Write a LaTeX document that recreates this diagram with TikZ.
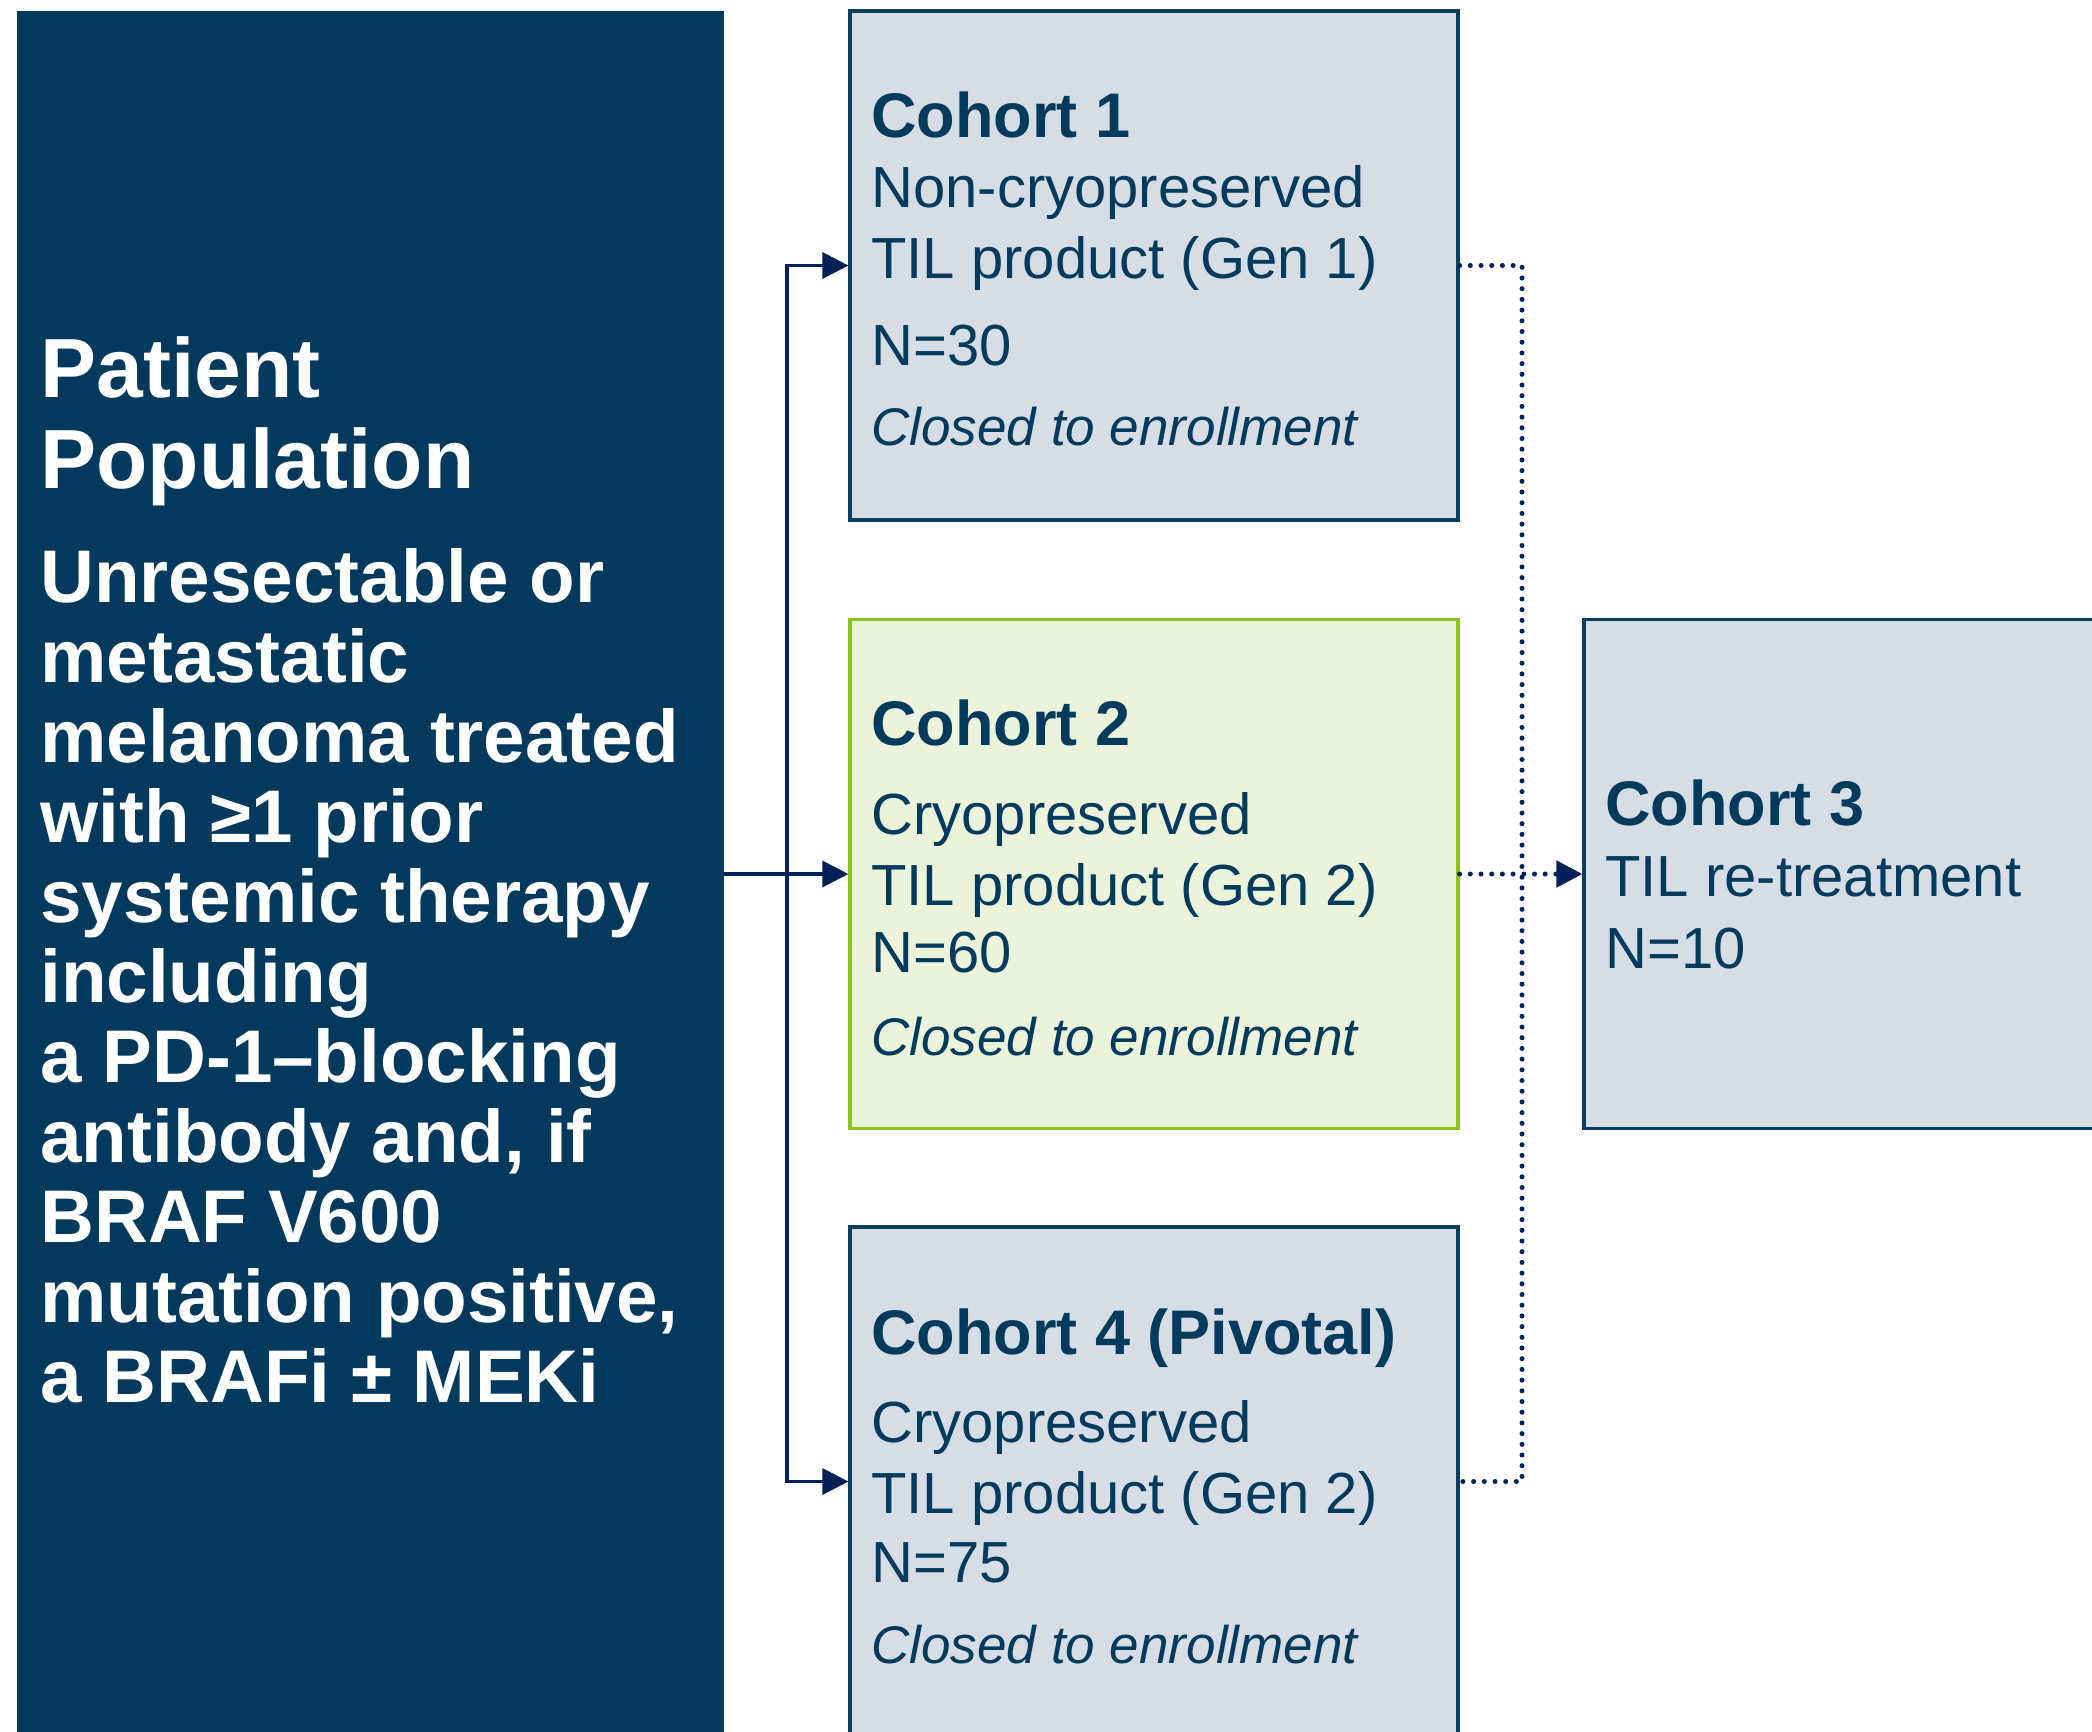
\documentclass[tikz,border=0pt]{standalone}
\usepackage{fontspec}
\setmainfont{Liberation Sans}
\usetikzlibrary{arrows.meta}
\definecolor{navyfill}{HTML}{03395C}
\definecolor{textblue}{HTML}{003A5D}
\definecolor{grayfill}{HTML}{D6DDE4}
\definecolor{greenfill}{HTML}{ECF3DB}
\definecolor{greenline}{HTML}{8DC21F}
\definecolor{boxline}{HTML}{0B3D5F}
\definecolor{arrowblue}{HTML}{002157}
\begin{document}
\begin{tikzpicture}[x=0.5pt,y=-0.5pt,
  cohortbox/.style={draw=boxline, fill=grayfill, line width=1.6pt, minimum width=304pt, minimum height=254.5pt, inner sep=0pt},
  greenbox/.style={cohortbox, draw=greenline, fill=greenfill},
  popbox/.style={fill=navyfill, minimum width=353.5pt, minimum height=863pt, inner sep=0pt},
  ttl/.style={anchor=base west, inner sep=0pt, text=textblue, font=\fontsize{31.5pt}{36pt}\selectfont\bfseries},
  bodytxt/.style={anchor=base west, inner sep=0pt, text=textblue, font=\fontsize{29pt}{34pt}\selectfont},
  itxt/.style={anchor=base west, inner sep=0pt, text=textblue, font=\fontsize{26.5pt}{31pt}\selectfont\itshape},
  poptitle/.style={anchor=base west, inner sep=0pt, text=white, font=\fontsize{42pt}{46pt}\selectfont\bfseries},
  popbody/.style={anchor=base west, inner sep=0pt, text=white, font=\fontsize{37.3pt}{40pt}\selectfont\bfseries},
  conn/.style={draw=arrowblue, line width=1.65pt, -{Triangle[length=13pt,width=13pt]}},
  dotline/.style={draw=arrowblue, line width=2.5pt, line cap=round, dash pattern=on 0pt off 5.35pt}
]
\useasboundingbox (0,0) rectangle (2092,1731);
\clip (0,0) rectangle (2092,1731);
\fill[white] (0,0) rectangle (2092,1731);

% boxes
\node[popbox] (pp) at (370.5,874) {};
\node[cohortbox] (c1) at (1154,265.5) {};
\node[greenbox] (c2) at (1154,874) {};
\node[cohortbox] (c4) at (1154,1481.5) {};
\node[cohortbox] (c3) at (1888,874) {};

% patient population text
\node[poptitle] (pt1) at (40,397) {Patient};
\node[poptitle] (pt2) at (40,488) {Population};
\foreach \t [count=\i] in {Unresectable or, metastatic, melanoma treated, with ≥1 prior, systemic therapy, including, a PD-1–blocking, {antibody and, if}, BRAF V600, {mutation positive,}, a BRAFi ± MEKi}
  \node[popbody] (pb\i) at (40,{602+80*(\i-1)}) {\t};

% cohort 1
\node[ttl] (c1t) at (871,137) {Cohort 1};
\node[bodytxt] (c1a) at (871,207) {Non-cryopreserved};
\node[bodytxt] (c1b) at (871,278) {TIL product (Gen 1)};
\node[bodytxt] (c1n) at (871,365) {N=30};
\node[itxt] (c1c) at (871,445) {Closed to enrollment};

% cohort 2
\node[ttl] (c2t) at (871,745) {Cohort 2};
\node[bodytxt] (c2a) at (871,834) {Cryopreserved};
\node[bodytxt] (c2b) at (871,905) {TIL product (Gen 2)};
\node[bodytxt] (c2n) at (871,972) {N=60};
\node[itxt] (c2c) at (871,1055) {Closed to enrollment};

% cohort 4
\node[ttl] (c4t) at (871,1354) {Cohort 4 (Pivotal)};
\node[bodytxt] (c4a) at (871,1442) {Cryopreserved};
\node[bodytxt] (c4b) at (871,1513) {TIL product (Gen 2)};
\node[bodytxt] (c4n) at (871,1582) {N=75};
\node[itxt] (c4c) at (871,1663) {Closed to enrollment};

% cohort 3
\node[ttl] (c3t) at (1605,825) {Cohort 3};
\node[bodytxt] (c3a) at (1605,896) {TIL re-treatment};
\node[bodytxt] (c3n) at (1605,968) {N=10};

% connectors
\coordinate (jn) at (787,874);
\draw[conn] (pp.east) -- (c2.west);
\draw[conn] (jn) |- (c1.west);
\draw[conn] (jn) |- (c4.west);

\coordinate (dj) at (1522,874);
\draw[dotline] (c1.east) -| (dj) |- (c4.east);
\draw[dotline, -{Triangle[length=13pt,width=13pt]}] (c2.east) -- (c3.west);
\end{tikzpicture}
\end{document}
